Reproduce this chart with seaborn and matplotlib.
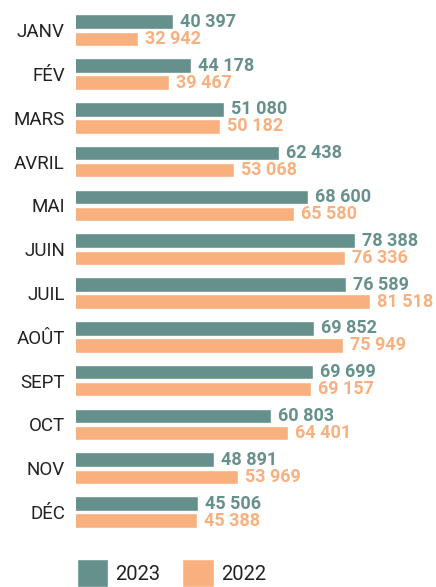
import numpy as np
import pandas as pd
import seaborn as sns
import matplotlib.pyplot as plt
from matplotlib.patches import Patch

# Données
mois = ["JANV", "FÉV", "MARS", "AVRIL", "MAI", "JUIN",
        "JUIL", "AOÛT", "SEPT", "OCT", "NOV", "DÉC"]
valeurs_2023 = [40397, 44178, 51080, 62438, 68600, 78388,
                76589, 69852, 69699, 60803, 48891, 45506]
valeurs_2022 = [32942, 39467, 50182, 53068, 65580, 76336,
                81518, 75949, 69157, 64401, 53969, 45388]
annees = ["2023", "2022"]

couleurs = {"2023": "#66908c", "2022": "#f9b07f"}

df = pd.DataFrame({
    "mois": mois * 2,
    "valeur": valeurs_2023 + valeurs_2022,
    "annee": ["2023"] * len(mois) + ["2022"] * len(mois),
})

sns.set_style("white")
plt.rcParams["font.family"] = ["Roboto", "DejaVu Sans"]

fig = plt.figure(figsize=(4.36, 5.87), dpi=100)
ax = fig.add_axes([0.1743, 0.0903, 0.8257, 0.8954])

sns.barplot(
    data=df, y="mois", x="valeur", hue="annee", hue_order=annees,
    order=mois, palette=couleurs, width=0.78, gap=0.15,
    orient="h", ax=ax, legend=False, saturation=1,
)

ax.set_xlim(20000, 95380)
ax.set_ylim(11.5, -0.5)

def fmt(v):
    return f"{v:,}".replace(",", " ")

for cont, an, vals in zip(ax.containers, annees, [valeurs_2023, valeurs_2022]):
    ax.bar_label(cont, labels=[fmt(v) for v in vals], padding=5,
                 color=couleurs[an], fontsize=13, fontweight="bold")

ax.set_xlabel("")
ax.set_ylabel("")
ax.set_xticks([])
ax.tick_params(axis="y", length=0, pad=8, labelsize=13.5, labelcolor="#222222")
sns.despine(ax=ax, left=True, bottom=True)

handles = [Patch(facecolor=couleurs[a], label=a) for a in annees]
fig.legend(handles=handles, loc="lower left", bbox_to_anchor=(0.158, -0.013),
           ncol=2, frameon=False, fontsize=14.5, handlelength=1.55,
           handleheight=1.7, handletextpad=0.35, columnspacing=1.1,
           labelcolor="#222222", borderaxespad=0)

fig.savefig("out.png", dpi=100)
